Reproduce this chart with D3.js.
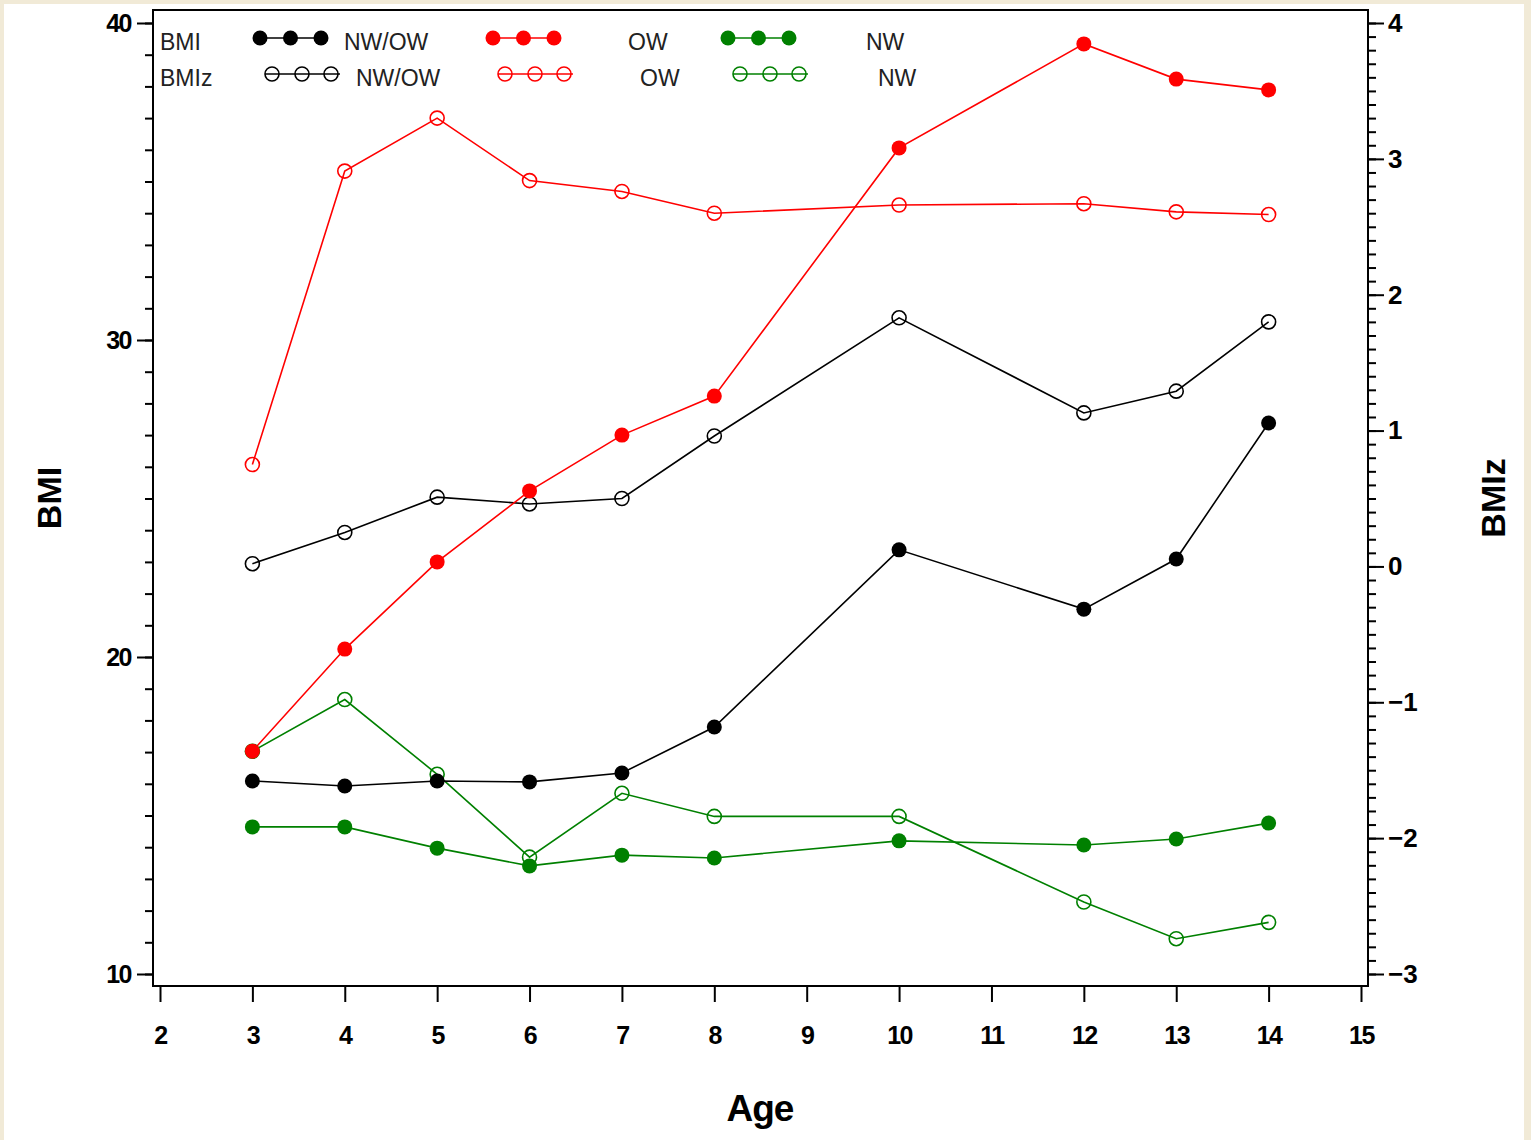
<!DOCTYPE html>
<html><head><meta charset="utf-8">
<script src="https://cdn.jsdelivr.net/npm/d3@7"></script>
<style>
html,body{margin:0;padding:0;background:#f1ead7;}
svg{display:block;}
</style></head>
<body>
<svg id="chart" width="1531" height="1140"></svg>
<script>
const ages = [3,4,5,6,7,8,10,12,13,14];
const bmiNWOW = [16.09,15.93,16.09,16.06,16.34,17.79,23.38,21.51,23.09,27.38];
const bmiOW   = [17.03,20.25,23.00,25.24,27.00,28.23,36.06,39.34,38.23,37.89];
const bmiNW   = [14.64,14.64,13.97,13.41,13.75,13.66,14.20,14.07,14.26,14.76];
const zNWOW = [0.02,0.25,0.51,0.46,0.50,0.96,1.83,1.13,1.29,1.80];
const zOW   = [0.75,2.91,3.30,2.84,2.76,2.60,2.66,2.67,2.61,2.59];
const zNW   = [-1.36,-0.98,-1.53,-2.14,-1.67,-1.84,-1.84,-2.47,-2.74,-2.62];
const xTicks = [2,3,4,5,6,7,8,9,10,11,12,13,14,15];
const bmiTicks = [10,20,30,40];
const zTicks = [-3,-2,-1,0,1,2,3,4];
const groups = ["NW/OW","OW","NW"];
const colors = ["#000000","#ff0000","#008000"];

const svg = d3.select("#chart");
svg.append("rect").attr("x",4).attr("y",4).attr("width",1520).attr("height",1136).attr("fill","#ffffff");

const frame = {l:153, r:1368, t:10, b:986};
const x = d3.scaleLinear().domain([2,15]).range([160,1361]);
const yL = d3.scaleLinear().domain([10,40]).range([974,23]);
const yR = d3.scaleLinear().domain([-3,4]).range([974,23]);

svg.append("rect").attr("x",frame.l).attr("y",frame.t).attr("width",frame.r-frame.l).attr("height",frame.b-frame.t)
  .attr("fill","none").attr("stroke","#000").attr("stroke-width",2);

const font = "'Liberation Sans', Arial, sans-serif";

// bottom axis
const gx = svg.append("g").attr("transform",`translate(0,${frame.b})`)
  .call(d3.axisBottom(x).tickValues(xTicks).tickSize(16).tickPadding(24).tickFormat(d3.format("d")));
gx.select(".domain").remove();
gx.selectAll("line").attr("stroke-width",2);
gx.selectAll("text").attr("font-family",font).attr("font-size",25).attr("font-weight","bold").attr("letter-spacing","-1.5px");

// left axis
const gl = svg.append("g").attr("transform",`translate(${frame.l},0)`)
  .call(d3.axisLeft(yL).ticks(30).tickSize(8).tickFormat(""));
gl.select(".domain").remove();
gl.selectAll("line").attr("stroke-width",2);
const gl2 = svg.append("g").attr("transform",`translate(${frame.l},0)`)
  .call(d3.axisLeft(yL).tickValues(bmiTicks).tickSize(16).tickPadding(6).tickFormat(d3.format("d")));
gl2.select(".domain").remove();
gl2.selectAll("line").attr("stroke-width",2);
gl2.selectAll("text").attr("font-family",font).attr("font-size",25).attr("font-weight","bold").attr("letter-spacing","-1.5px");

// right axis
const gr = svg.append("g").attr("transform",`translate(${frame.r},0)`)
  .call(d3.axisRight(yR).ticks(70).tickSize(8).tickFormat(""));
gr.select(".domain").remove();
gr.selectAll("line").attr("stroke-width",2);
const gr2 = svg.append("g").attr("transform",`translate(${frame.r},0)`)
  .call(d3.axisRight(yR).tickValues(zTicks).tickSize(16).tickPadding(4).tickFormat(d => d<0 ? "\u2212"+Math.abs(d) : d));
gr2.select(".domain").remove();
gr2.selectAll("line").attr("stroke-width",2);
gr2.selectAll("text").attr("font-family",font).attr("font-size",26).attr("font-weight","bold");

// axis titles
svg.append("text").attr("x",760).attr("y",1121).attr("text-anchor","middle")
  .attr("font-family",font).attr("font-size",37).attr("font-weight","bold").attr("letter-spacing","-1px").text("Age");
svg.append("text").attr("transform","translate(61,498) rotate(-90)").attr("text-anchor","middle")
  .attr("font-family",font).attr("font-size",34).attr("font-weight","bold").text("BMI");
svg.append("text").attr("transform","translate(1505,498) rotate(-90)").attr("text-anchor","middle")
  .attr("font-family",font).attr("font-size",34).attr("font-weight","bold").text("BMIz");

const bmiSeries = [bmiNWOW,bmiOW,bmiNW];
const zSeries = [zNWOW,zOW,zNW];
const line = (ys, sc) => d3.line().x((d,i)=>x(ages[i])).y(d=>sc(d))(ys);

const plot = svg.append("g");
zSeries.forEach((s,k)=>{
  plot.append("path").attr("d",line(s,yR)).attr("fill","none").attr("stroke",colors[k]).attr("stroke-width",1.6);
});
bmiSeries.forEach((s,k)=>{
  plot.append("path").attr("d",line(s,yL)).attr("fill","none").attr("stroke",colors[k]).attr("stroke-width",1.6);
});
zSeries.forEach((s,k)=>{
  plot.selectAll(null).data(s).enter().append("circle")
    .attr("cx",(d,i)=>x(ages[i])).attr("cy",d=>yR(d)).attr("r",7)
    .attr("fill","none").attr("stroke",colors[k]).attr("stroke-width",1.6);
});
bmiSeries.forEach((s,k)=>{
  plot.selectAll(null).data(s).enter().append("circle")
    .attr("cx",(d,i)=>x(ages[i])).attr("cy",d=>yL(d)).attr("r",7.5)
    .attr("fill",colors[k]).attr("stroke","none");
});

// legend
const leg = svg.append("g").attr("font-family",font).attr("font-size",23).attr("fill","#222");
leg.append("text").attr("x",160).attr("y",50).text("BMI");
leg.append("text").attr("x",160).attr("y",86).text("BMIz");
const row1 = [{m:260,t:344},{m:493,t:628},{m:728,t:866}];
const row2 = [{m:272,t:356},{m:505,t:640},{m:740,t:878}];
row1.forEach((p,k)=>{
  const yy = 38;
  leg.append("line").attr("x1",p.m).attr("x2",p.m+61).attr("y1",yy).attr("y2",yy).attr("stroke",colors[k]).attr("stroke-width",1.6);
  [0,30.5,61].forEach(o=>leg.append("circle").attr("cx",p.m+o).attr("cy",yy).attr("r",7.5).attr("fill",colors[k]));
  leg.append("text").attr("x",p.t).attr("y",50).text(groups[k]);
});
row2.forEach((p,k)=>{
  const yy = 74;
  leg.append("line").attr("x1",p.m-7).attr("x2",p.m+68).attr("y1",yy).attr("y2",yy).attr("stroke",colors[k]).attr("stroke-width",1.6);
  [0,30,59].forEach(o=>leg.append("circle").attr("cx",p.m+o).attr("cy",yy).attr("r",7).attr("fill","none").attr("stroke",colors[k]).attr("stroke-width",1.6));
  leg.append("text").attr("x",p.t).attr("y",86).text(groups[k]);
});
</script>
</body></html>
